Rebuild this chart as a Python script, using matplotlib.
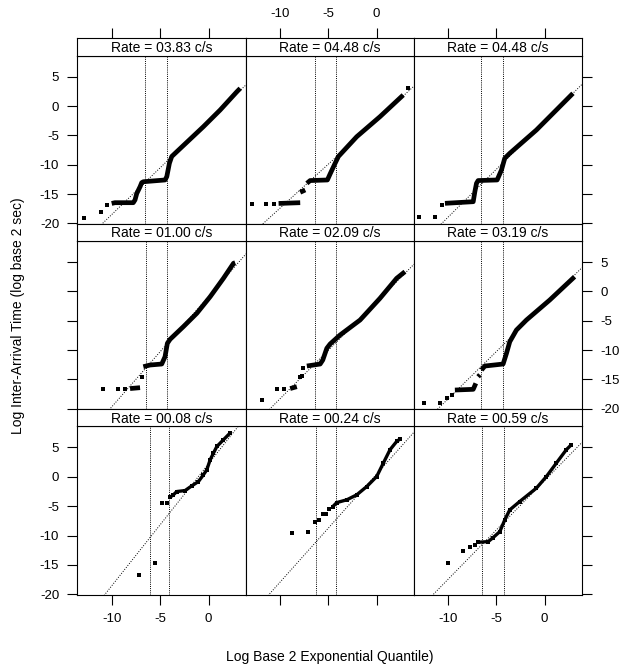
import matplotlib
matplotlib.use("Agg")
import matplotlib.pyplot as plt
import numpy as np

plt.rcParams['font.family'] = ['Liberation Sans', 'DejaVu Sans']

NAN = (np.nan, np.nan)

RATES = ["03.83", "04.48", "04.48", "01.00", "02.09", "03.19", "00.08", "00.24", "00.59"]

# vertical reference lines (x positions) per panel
VLINE_A = [-6.6, -6.4, -6.6, -6.5, -6.4, -6.6, -6.0, -6.3, -6.5]
VLINE_B = [-4.25, -4.2, -4.3, -4.25, -4.25, -4.3, -4.1, -4.2, -4.25]

# diagonal reference line per panel: intercept, slope
REF_B = [-2.56, -2.40, -2.61, -0.88, -1.75, -2.18, 2.22, 0.49, -0.63]
REF_M = [1.594, 1.497, 1.63, 1.88, 1.65, 1.61, 2.08, 1.84, 1.68]

# isolated points per panel
P1_PTS = [(-12.83, -19.13), (-11.14, -18.0), (-10.45, -16.8)]
P2_PTS = [(-12.93, -16.7), (-11.45, -16.7), (-10.69, -16.7), (3.27, 3.0)]
P3_PTS = [(-13.0, -18.96), (-11.38, -18.96), (-10.68, -16.87)]
P4_PTS = [(-10.87, -16.63), (-9.32, -16.63), (-8.62, -16.63), (-6.9, -14.53)]
P5_PTS = [(-11.9, -18.5), (-10.34, -16.63), (-9.66, -16.63), (-7.93, -14.53),
          (-7.75, -14.45), (-7.59, -13.1)]
P6_PTS = [(-12.51, -18.96), (-10.86, -18.96), (-10.17, -18.2), (-9.65, -17.65)]
P7_PTS = [(-7.15, -16.72), (-5.52, -14.73), (-4.83, -4.49), (-4.31, -4.49)]
P8_PTS = [(-8.79, -9.5), (-7.14, -9.39), (-6.38, -7.63), (-5.93, -7.34),
          (-5.52, -6.31), (-5.24, -6.31), (-4.9, -5.52)]
P9_PTS = [(-10.06, -14.62), (-8.51, -12.58), (-7.76, -11.89), (-7.24, -11.6)]

# dense runs of points per panel (NAN separates runs)
P1_RUN = [(-10.0, -16.6), (-9.66, -16.47), (-7.77, -16.47), (-7.59, -16.0),
          (-7.41, -14.9), (-7.07, -13.75), (-6.9, -13.06), (-6.73, -12.9),
          (-4.49, -12.6), (-4.31, -12.04), (-4.04, -9.76), (-3.8, -8.6),
          (-3.28, -7.79), (-0.53, -3.52), (1.2, -0.68), (2.93, 2.44), (3.27, 3.01)]
P2_RUN = [(-10.17, -16.6), (-7.93, -16.47), NAN, (-7.93, -14.7), (-7.41, -14.3), NAN,
          (-7.24, -13.17), (-6.9, -12.7), (-5.11, -12.6), (-4.83, -11.58),
          (-4.31, -9.76), (-3.97, -8.6), (-2.07, -5.23), (0.34, -1.82), (2.75, 1.87)]
P3_RUN = [(-10.34, -16.58), (-7.41, -16.3), (-7.24, -14.6), (-7.07, -13.17),
          (-6.9, -12.7), (-4.93, -12.6), (-4.48, -10.9), (-4.14, -8.9),
          (-3.62, -8.06), (-0.86, -4.09), (1.21, -0.68), (2.93, 2.16)]
P4_RUN = [(-8.1, -16.55), (-7.07, -16.4), NAN,
          (-6.73, -12.83), (-6.04, -12.54), (-4.83, -12.37), (-4.49, -11.12),
          (-4.25, -8.84), (-3.97, -8.16), (-2.6, -6.01), (-1.21, -3.73),
          (0.17, -0.9), (1.54, 2.23), (2.58, 4.79), (2.75, 4.89)]
P5_RUN = [(-8.97, -16.55), (-8.28, -16.23), NAN,
          (-7.24, -12.71), (-5.86, -12.37), (-5.59, -11.69), (-5.17, -9.69),
          (-4.83, -8.96), (-3.8, -7.43), (-1.72, -4.87), (0.34, -1.18),
          (2.07, 2.23), (2.93, 3.36)]
P6_RUN = [(-9.31, -16.8), (-7.41, -16.68), (-7.14, -15.66), NAN,
          (-6.9, -14.53), (-6.72, -14.2), NAN,
          (-6.55, -13.39), (-6.2, -12.71), (-4.31, -12.37), (-3.96, -10.55),
          (-3.62, -8.57), (-2.93, -6.58), (-1.89, -4.87), (0.52, -1.47), (3.1, 2.5)]
P7_RUN = [(-3.97, -3.47), (-3.63, -3.07), (-3.28, -2.51), (-2.42, -2.34),
          (-1.73, -1.54), (-1.04, -0.8), (-0.53, 0.34), (-0.18, 1.19),
          (0.17, 2.9), (0.51, 4.04), (0.86, 5.17), (1.54, 6.31), (2.23, 7.46)]
P8_RUN = [(-4.55, -5.07), (-4.14, -4.39), (-3.1, -3.92), (-2.07, -3.07),
          (-1.03, -1.66), (0.0, 0.05), (0.69, 2.34), (1.38, 4.61),
          (2.07, 6.02), (2.41, 6.43)]
P9_RUN = [(-6.9, -11.15), (-5.86, -11.04), (-5.35, -10.36), (-4.65, -9.33),
          (-4.14, -7.34), (-3.62, -5.63), (-2.59, -4.21), (-0.86, -1.93),
          (0.18, 0.05), (1.21, 2.34), (2.24, 4.61), (2.76, 5.46)]

X_TICKS = [-10, -5, 0]
Y_TICKS = [-20, -15, -10, -5, 0, 5]

PTS = [P1_PTS, P2_PTS, P3_PTS, P4_PTS, P5_PTS, P6_PTS, P7_PTS, P8_PTS, P9_PTS]
RUNS = [P1_RUN, P2_RUN, P3_RUN, P4_RUN, P5_RUN, P6_RUN, P7_RUN, P8_RUN, P9_RUN]

W, H = 621, 671
fig = plt.figure(figsize=(W / 100, H / 100), dpi=100)

col_edges = [77.3, 246.0, 414.0, 582.0]
row_top0 = 38.3
strip_h = 17.3
data_h = 168.1
row_step = strip_h + data_h
XLIM = (-13.55, 3.87)
YLIM = (-20.05, 8.59)
FS = 9.5
LW_FRAME = 0.8


def frac_rect(x0, y0, x1, y1):
    return [x0 / W, 1 - y1 / H, (x1 - x0) / W, (y1 - y0) / H]


for r in range(3):
    for c in range(3):
        k = r * 3 + c
        x0, x1 = col_edges[c], col_edges[c + 1]
        ys = row_top0 + r * row_step
        yd = ys + strip_h
        yb = yd + data_h

        ax = fig.add_axes(frac_rect(x0, yd, x1, yb))
        ax.set_xlim(*XLIM)
        ax.set_ylim(*YLIM)
        for s in ax.spines.values():
            s.set_linewidth(LW_FRAME)

        # reference lines
        xx = np.array(XLIM)
        ax.plot(xx, REF_B[k] + REF_M[k] * xx, color='black', lw=0.7,
                linestyle=(0, (1, 1.6)))
        for v in (VLINE_A[k], VLINE_B[k]):
            ax.axvline(v, color='black', lw=0.7, linestyle=(0, (1, 1.2)))

        run = np.array(RUNS[k], dtype=float)
        lw = 2.4 if r == 2 else 3.4
        ax.plot(run[:, 0], run[:, 1], color='black', lw=lw,
                solid_capstyle='butt', solid_joinstyle='round')
        if r == 2:
            ax.plot(run[:, 0], run[:, 1], 's', color='black', ms=2.6, mew=0)
        pts = np.array(PTS[k], dtype=float)
        ax.plot(pts[:, 0], pts[:, 1], 's', color='black', ms=2.6, mew=0)

        ax.set_xticks(X_TICKS)
        ax.set_yticks(Y_TICKS)
        ax.tick_params(direction='out', length=7, width=0.8, labelsize=FS,
                       left=(c == 0), right=(c == 2),
                       labelleft=(c == 0 and r != 1),
                       labelright=(c == 2 and r == 1),
                       bottom=(r == 2), top=False,
                       labelbottom=(r == 2 and c != 1), labeltop=False,
                       pad=6)
        ax.set_xticklabels([str(t) for t in X_TICKS])
        ax.set_yticklabels([str(t) for t in Y_TICKS])

        # strip
        sx = fig.add_axes(frac_rect(x0, ys, x1, yd))
        sx.set_xlim(*XLIM)
        sx.set_ylim(0, 1)
        for s in sx.spines.values():
            s.set_linewidth(LW_FRAME)
        sx.set_yticks([])
        sx.set_xticks(X_TICKS)
        sx.set_xticklabels([str(t) for t in X_TICKS])
        sx.tick_params(direction='out', length=7, width=0.8, labelsize=FS,
                       bottom=False, labelbottom=False,
                       top=(r == 0), labeltop=(r == 0 and c == 1), pad=6)
        sx.text(0.5, 0.45, "Rate = %s c/s" % RATES[k], transform=sx.transAxes,
                ha='center', va='center', fontsize=10)

fig.text(18 / W, 1 - 316 / H, "Log Inter-Arrival Time (log base 2 sec)",
         rotation=90, ha='center', va='center', fontsize=10)
fig.text(330 / W, 1 - 657 / H, "Log Base 2 Exponential Quantile)",
         ha='center', va='center', fontsize=10)

fig.savefig("out.png", dpi=100)
